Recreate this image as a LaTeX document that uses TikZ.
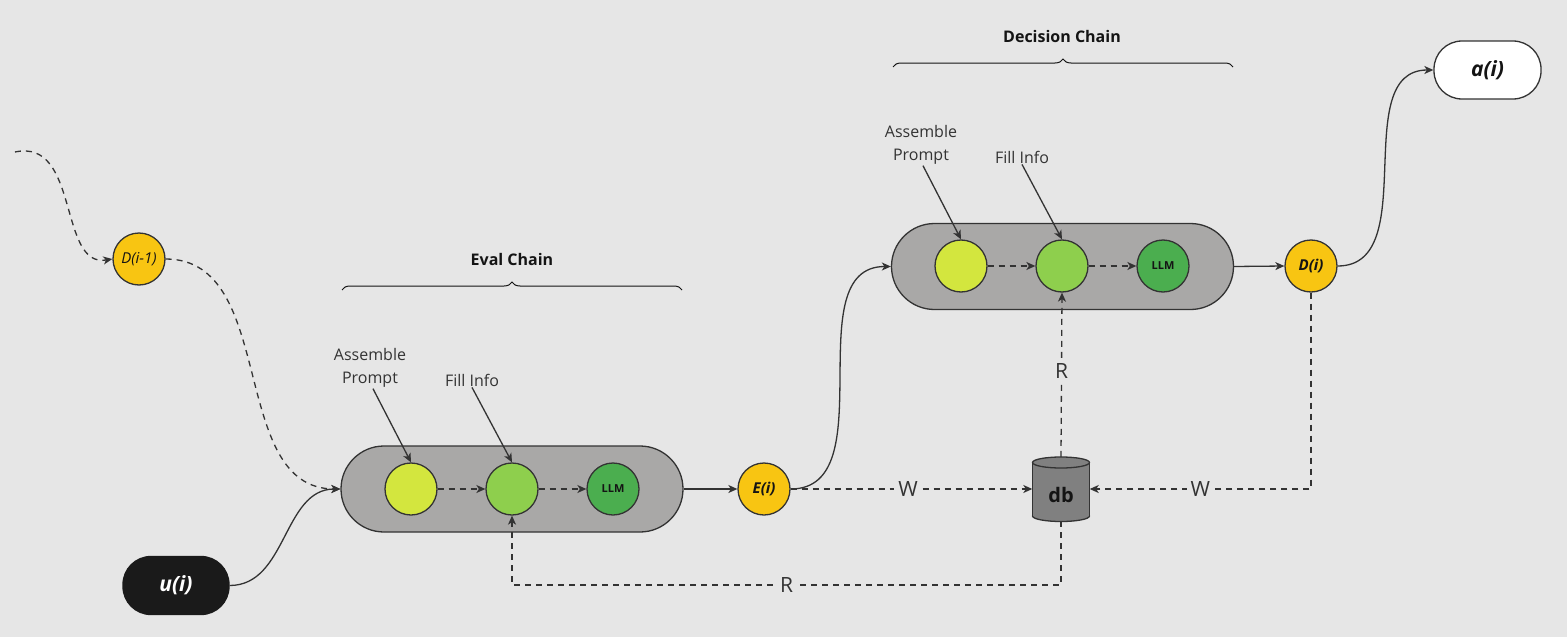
\documentclass[tikz,border=0pt]{standalone}
\usepackage{fontspec}
\setmainfont{Open Sans}
\usetikzlibrary{arrows.meta,shapes.geometric,decorations.pathreplacing}
\definecolor{bg}{HTML}{E6E6E6}
\definecolor{lc}{HTML}{333333}
\definecolor{txt}{HTML}{333333}
\definecolor{ttl}{HTML}{141414}
\definecolor{pillc}{HTML}{A9A8A7}
\definecolor{lime}{HTML}{D3E63E}
\definecolor{lgreen}{HTML}{8ECF4D}
\definecolor{dgreen}{HTML}{4BAE4F}
\definecolor{yel}{HTML}{F8C512}
\definecolor{dbc}{HTML}{808080}
\definecolor{blk}{HTML}{1A1A1A}
\tikzset{
  ln/.style={draw=lc, line width=1.3pt},
  arr/.style={ln, -{Stealth[length=9pt,width=8pt,inset=2.5pt]}},
  dsh/.style={dash pattern=on 6pt off 5pt},
  pill/.style={draw=lc, line width=1.3pt, fill=pillc, rounded corners=43pt, minimum width=342pt, minimum height=86pt, inner sep=0pt},
  dot/.style={circle, draw=lc, line width=1.3pt, minimum size=52pt, inner sep=0pt},
  ynode/.style={dot, fill=yel, font=\fontsize{15}{18}\selectfont\bfseries\itshape, text=ttl},
  lbl/.style={font=\fontsize{16}{23}\selectfont, text=txt, align=center, inner sep=1pt},
  ttlstyle/.style={font=\fontsize{16}{19}\selectfont\bfseries, text=ttl, inner sep=0pt},
  rw/.style={font=\fontsize{21}{24}\selectfont, text=txt, fill=bg, inner sep=4pt},
  bracestyle/.style={draw=ttl, line width=1pt, decorate, decoration={brace, amplitude=8pt}},
  term/.style={rounded corners=28pt, line width=1.3pt, minimum height=58pt, inner sep=0pt, font=\fontsize{21}{24}\selectfont\bfseries\itshape},
  dbpart/.style={fill=dbc, draw=lc, line width=1.3pt},
}
\begin{document}
\begin{tikzpicture}[x=1pt,y=-1pt]
\fill[bg] (0,0) rectangle (1567,637);
\useasboundingbox (0,0) rectangle (1567,637);

% Eval chain
\node[pill] (ep) at (512,489) {};
\node[dot, fill=lime] (e1) at (411,489) {};
\node[dot, fill=lgreen] (e2) at (512,489) {};
\node[dot, fill=dgreen, font=\fontsize{11}{13}\selectfont\bfseries, text=ttl] (e3) at (613,489) {LLM};
\draw[arr, dsh] (e1) -- (e2);
\draw[arr, dsh] (e2) -- (e3);
\node[lbl] (eap) at (370,368) {Assemble\\Prompt};
\node[lbl] (efi) at (472,380) {Fill Info};
\coordinate (eaps) at ([xshift=3pt]eap.south);
\draw[arr] (eaps) -- (e1.north);
\draw[arr] (efi.south) -- (e2.north);
\node[ttlstyle] (et) at (512,259) {Eval Chain};
\draw[bracestyle] (342,290) -- (682,290);

% Decision chain
\node[pill] (dp) at (1062.5,266.5) {};
\node[dot, fill=lime] (d1) at (961,266) {};
\node[dot, fill=lgreen] (d2) at (1062,266) {};
\node[dot, fill=dgreen, font=\fontsize{11}{13}\selectfont\bfseries, text=ttl] (d3) at (1163,266) {LLM};
\draw[arr, dsh] (d1) -- (d2);
\draw[arr, dsh] (d2) -- (d3);
\node[lbl] (dap) at (921,145) {Assemble\\Prompt};
\node[lbl] (dfi) at (1022,157) {Fill Info};
\coordinate (daps) at ([xshift=2pt]dap.south);
\draw[arr] (daps) -- (d1.north);
\draw[arr] (dfi.south) -- (d2.north);
\node[ttlstyle] (dt) at (1062,36) {Decision Chain};
\draw[bracestyle] (893,67) -- (1233,67);

% yellow nodes
\node[ynode, font=\fontsize{15}{18}\selectfont\itshape] (dprev) at (139,259) {D(i-1)};
\node[ynode] (ei) at (764,489) {E(i)};
\node[ynode] (di) at (1311,266) {D(i)};

% terminals
\node[term, fill=blk, draw=blk, text=white, minimum width=106pt] (ui) at (176,585.5) {u(i)};
\node[term, fill=white, draw=lc, text=ttl, minimum width=107pt] (ai) at (1487.5,70) {a(i)};

% db (cylinder drawn by hand around an invisible anchor node)
\node[rectangle, minimum width=57pt, minimum height=64pt, inner sep=0pt] (db) at (1061,489) {};
\draw[dbpart] (1061,516) ellipse [x radius=28.5pt, y radius=5.5pt];
\fill[dbc] (1032.5,462) rectangle (1089.5,516);
\draw[ln] (1032.5,462) -- (1032.5,516) (1089.5,462) -- (1089.5,516);
\draw[dbpart] (1061,462.5) ellipse [x radius=28.5pt, y radius=5.5pt];
\node[font=\fontsize{20}{24}\selectfont\bfseries, text=ttl] (dbt) at (1061,495) {db};

% connectors
\coordinate (start) at (15,152);
\draw[arr, dsh] (start) .. controls (80,138) and (58,268) .. (dprev.west);
\draw[arr, dsh] (dprev.east) to[out=0, in=180] (ep.west);
\draw[arr] (ui.east) to[out=0, in=180] (ep.west);
\draw[arr] (ep.east) -- (ei.west);
\draw[arr] (ei.east) to[out=0, in=180] (dp.west);
\draw[arr] (dp.east) -- (di.west);
\draw[arr] (di.east) to[out=0, in=180] (ai.west);
\draw[arr, dsh] (ei.east) -- node[rw, pos=0.486] {W} (db.west);
\draw[arr, dsh] (di.south) |- node[rw, pos=0.75] {W} (db.east);
\coordinate (rc) at (1061,585);
\draw[arr, dsh] (db.south) -- (rc) -| node[rw, pos=0.25] {R} (e2.south);
\draw[arr, dsh] (db.north) -- node[rw, pos=0.52] {R} (d2.south);
\end{tikzpicture}
\end{document}
